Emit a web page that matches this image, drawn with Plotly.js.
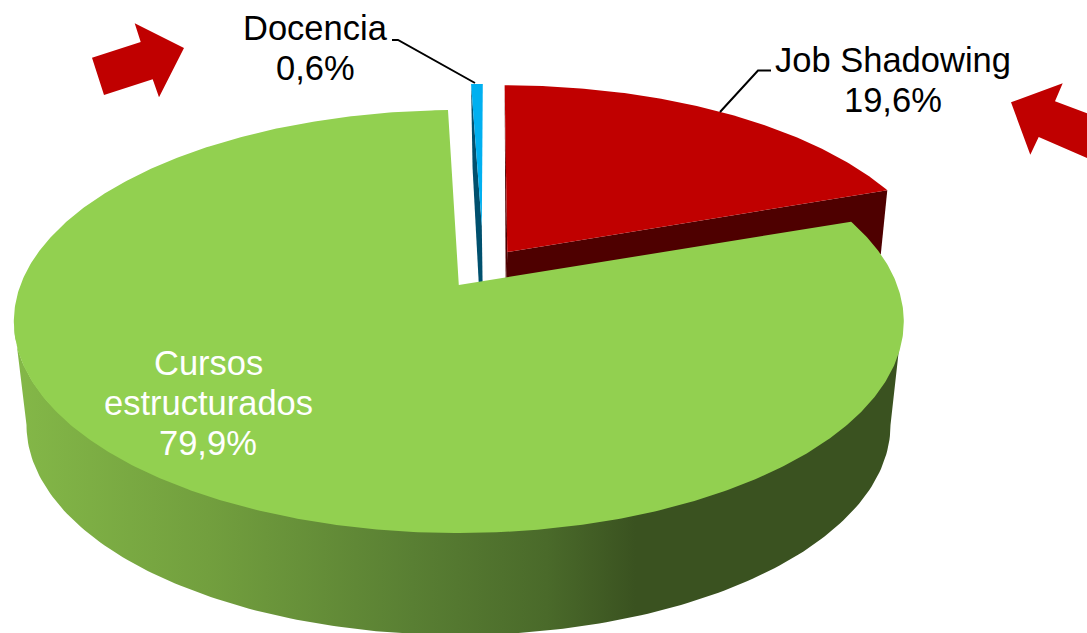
<!DOCTYPE html>
<html>
<head>
<meta charset="utf-8">
<script src="https://cdn.plot.ly/plotly-3.0.1.min.js"></script>
<style>html,body{margin:0;padding:0;background:#fff;overflow:hidden}#chart{width:1087px;height:633px}</style>
</head>
<body>
<div id="chart"></div>
<script>
// Data
var categories = ["Job Shadowing", "Cursos estructurados", "Docencia"];
var shares = [19.6, 79.9, 0.6];
var shareLabels = ["19,6%", "79,9%", "0,6%"];

// Colours
var TOP = ["#C00000", "#92D050", "#00B0F0"];
var DARK = ["#4E0000", "#3A5220", "#00506E"];

// Perspective view of each exploded slice (unit disc -> page)
var PERSP = 0.1727;
var views = [
  {x: 507.3, y: 252, a: 195.5, c: 427.5, shear: 0.016, rot: 0},
  {x: 458.8, y: 285, a: 205.2, c: 438.3, shear: 0, rot: 0.5},
  {x: 481.8, y: 226, a: 166.5, c: 365, shear: -0.007, rot: 0}
];

function project(view, deg) {
  var r = (deg + view.rot) * Math.PI / 180, u = Math.sin(r), v = Math.cos(r), w = 1 + PERSP * v;
  var Y = view.a * v / w;
  return [view.x + view.c * u / w - view.shear * Y, view.y - Y];
}
function arc(view, from, to) {
  var n = Math.max(2, Math.ceil(Math.abs(to - from) * 2)), pts = [];
  for (var i = 0; i <= n; i++) pts.push(project(view, from + (to - from) * i / n));
  return pts;
}
function poly(pts, color, extra) {
  var t = {
    type: "scatter", mode: "lines", hoverinfo: "skip", showlegend: false,
    x: pts.map(function (p) { return p[0]; }).concat([pts[0][0]]),
    y: pts.map(function (p) { return p[1]; }).concat([pts[0][1]]),
    fill: "toself", fillcolor: color, line: {width: 0, color: color}
  };
  if (extra) for (var k in extra) t[k] = extra[k];
  return t;
}

// Cumulative angles from the values
var total = shares.reduce(function (a, b) { return a + b; }, 0), cum = 0;
var spans = shares.map(function (s) {
  var a = cum; cum += s / total * 360; return [a, cum];
});

var traces = [];
// Job Shadowing
var rv = views[0], rs = spans[0];
var rFar = project(rv, rs[0]), rEnd = project(rv, rs[1]), rTip = [rv.x, rv.y];
traces.push(poly([rTip, rEnd, [rEnd[0] - 6.5, rEnd[1] + 64], [rTip[0] - 1.5, rTip[1] + 58]], DARK[0]));
traces.push(poly([rFar, [rTip[0] - 1.5, rTip[1] + 58], rTip], DARK[0]));
traces.push(poly([rTip].concat(arc(rv, rs[0], rs[1])), TOP[0]));
// Docencia
var bv = views[2], bs = spans[2];
var bStart = project(bv, bs[0]), bTip = [bv.x, bv.y];
traces.push(poly([bStart, [bStart[0] + 1.5, bStart[1] + 84], [bTip[0] - 3, bTip[1] + 58], [bTip[0] + 0.8, bTip[1] + 58], bTip], DARK[2]));
traces.push(poly([bTip].concat(arc(bv, bs[0], bs[1])), TOP[2]));
// Cursos estructurados: wall, then top face
var gv = views[1], gs = spans[1];
var gLow = {x: 458.5, y: 425, rx: 432, ry: 210};
var wall = [], d;
for (d = 180; d <= 360; d += 1) {
  wall.push([458 + 444 * Math.cos(d * Math.PI / 180), 322 - 208 * Math.sin(d * Math.PI / 180)]);
}
for (d = 360; d >= 180; d -= 1) {
  wall.push([gLow.x + gLow.rx * Math.cos(d * Math.PI / 180), gLow.y - gLow.ry * Math.sin(d * Math.PI / 180)]);
}
traces.push(poly(wall, DARK[1], {
  fillgradient: {
    type: "horizontal", start: 12, stop: 903,
    colorscale: [[0, "#84B848"], [0.22, "#729F3E"], [0.45, "#597F33"], [0.6, "#4A6A2A"], [0.7, "#3A5220"], [1, "#3A5220"]]
  }
}));
traces.push(poly([[gv.x, gv.y]].concat(arc(gv, gs[0], gs[1])), TOP[1]));

var FONT = "Liberation Sans, Arial, sans-serif";
var SIZE = 34.5;
function note(x, y, text, color) {
  return {x: x, y: y, xref: "x", yref: "y", text: text, showarrow: false, align: "center",
    xanchor: "center", yanchor: "middle", font: {family: FONT, size: SIZE, color: color || "#000"}};
}
var RED = TOP[0];
var layout = {
  width: 1087, height: 633, margin: {l: 0, r: 0, t: 0, b: 0},
  paper_bgcolor: "#fff", plot_bgcolor: "#fff", showlegend: false,
  xaxis: {range: [0, 1087], visible: false, fixedrange: true},
  yaxis: {range: [633, 0], visible: false, fixedrange: true},
  annotations: [
    note(315, 28, categories[2]),
    note(315, 68, shareLabels[2]),
    note(893, 60, categories[0]),
    note(893, 100, shareLabels[0]),
    note(208, 363, "Cursos", "#fff"),
    note(208, 403, "estructurados", "#fff"),
    note(208, 443, shareLabels[1], "#fff")
  ],
  shapes: [
    {type: "path", xref: "x", yref: "y", path: "M 392 40 L 398 40 L 475 83", line: {color: "#000", width: 2}},
    {type: "path", xref: "x", yref: "y", path: "M 771 70.5 L 758 70.5 L 720 112", line: {color: "#000", width: 2}},
    {type: "path", xref: "x", yref: "y", path: "M 92 57.7 L 140.7 42 L 134.7 23.3 L 184 48 L 159 97.3 L 152.7 79.3 L 104 95 Z", fillcolor: RED, line: {width: 0}},
    {type: "path", xref: "x", yref: "y", path: "M 1011 102.3 L 1062.7 83.3 L 1055 101.3 L 1087 113.3 L 1087 158 L 1038.7 137 L 1030.3 154.7 Z", fillcolor: RED, line: {width: 0}}
  ]
};
Plotly.newPlot("chart", traces, layout, {displayModeBar: false, staticPlot: true});
</script>
</body>
</html>
